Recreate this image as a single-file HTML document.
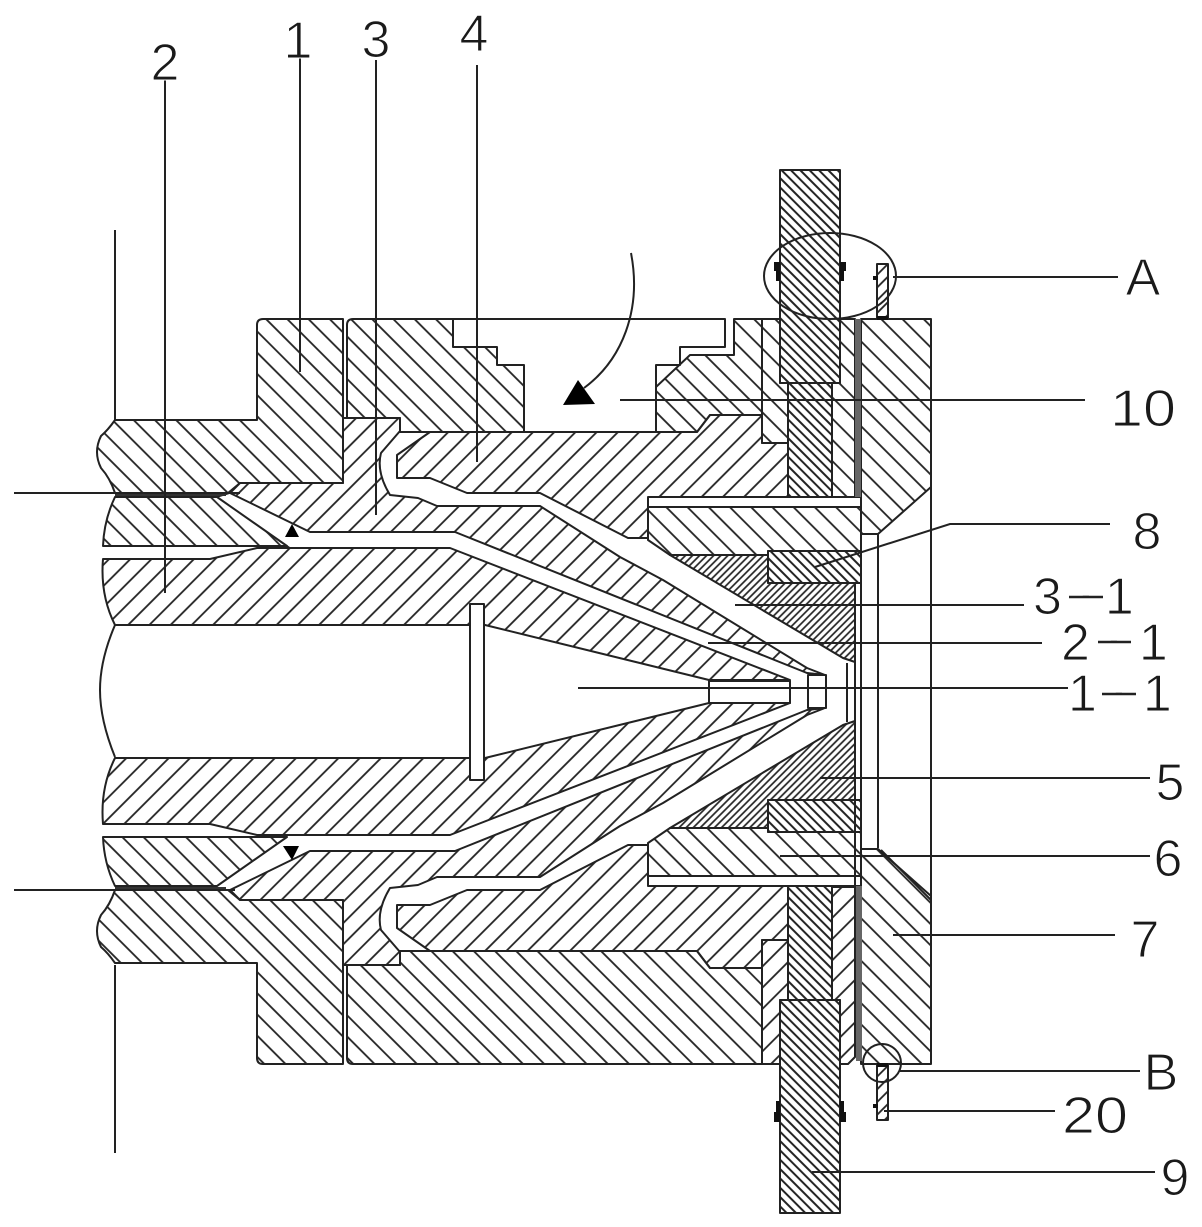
<!DOCTYPE html>
<html lang="en">
<head>
<meta charset="utf-8">
<title>Die head cross-section</title>
<style>
html,body{margin:0;padding:0;background:#fff}
svg{display:block}
text{font-family:"Liberation Sans",sans-serif;font-size:52px;fill:#1a1a1a;stroke:#fff;stroke-width:1.1px;paint-order:fill stroke}
tspan.h{font-size:30px}
</style>
</head>
<body>
<svg width="1202" height="1227" viewBox="0 0 1202 1227" xmlns="http://www.w3.org/2000/svg">
<defs>
<pattern id="b" width="15" height="15" patternUnits="userSpaceOnUse" patternTransform="rotate(45)"><path d="M0 7.5H15" stroke="#222" stroke-width="1.8"/></pattern>
<pattern id="f" width="15" height="15" patternUnits="userSpaceOnUse" patternTransform="rotate(-45)"><path d="M0 7.5H15" stroke="#222" stroke-width="1.8"/></pattern>
<pattern id="bb" width="6.6" height="6.6" patternUnits="userSpaceOnUse" patternTransform="rotate(45)"><path d="M0 3.3H6.6" stroke="#222" stroke-width="2"/></pattern>
<pattern id="fb" width="6.6" height="6.6" patternUnits="userSpaceOnUse" patternTransform="rotate(-45)"><path d="M0 3.3H6.6" stroke="#222" stroke-width="2"/></pattern>
<pattern id="ff" width="5" height="5" patternUnits="userSpaceOnUse" patternTransform="rotate(-45)"><path d="M0 2.5H5" stroke="#222" stroke-width="1.7"/></pattern>
<pattern id="fq" width="5" height="5" patternUnits="userSpaceOnUse" patternTransform="rotate(45)"><path d="M0 2.5H5" stroke="#222" stroke-width="1.7"/></pattern>
<pattern id="pf" width="9" height="9" patternUnits="userSpaceOnUse" patternTransform="rotate(-45)"><path d="M0 4.5H9" stroke="#222" stroke-width="1.8"/></pattern>
</defs>
<rect width="1202" height="1227" fill="#fff"/>

<g stroke="#222" stroke-width="2" stroke-linejoin="round">
<!-- upper half -->
<g>
<path fill="url(#b)" d="M115 420H257V325Q257 319 263 319H343V483H240L228 493H115Q110 478 101 468Q93 452 101 436Q108 430 115 420Z"/>
<path fill="url(#b)" d="M115 497H217L287 546H103Q104 520 115 497Z"/>
<path fill="url(#f)" d="M240 483H343V418H400V431L381 453Q376 472 390 495L418 498L437 506H540L620 557L663 580L807 668L825 675L807 673L455 532H310L230 493Z"/>
<path fill="url(#f)" d="M430 432H697L710 415H762V443H788V497H648V538H628L540 493H467L430 478H397V455Z"/>
<path fill="url(#f)" d="M103 559H210L257 548H450L790 680H709L485 625H115Q100 595 103 559Z"/>
<path fill="url(#b)" d="M648 507H861V551H768V555H670L648 540Z"/>
<path fill="url(#bb)" d="M768 551H861V583H768Z"/>
<path fill="url(#ff)" d="M670 555H768V583H855V662L843 658Z"/>
<path fill="url(#b)" d="M861 319H931V487L878 534H861Z"/>
<path fill="url(#bb)" d="M788 383H832V497H788Z"/>
<path fill="url(#bb)" d="M780 170H840V383H780Z"/>
</g>
<!-- lower half: mirrored about y=691.5 with mirrored patterns so hatch keeps its on-screen direction -->
<g transform="matrix(1 0 0 -1 0 1383)">
<path fill="url(#f)" d="M115 420H257V325Q257 319 263 319H343V483H240L228 493H115Q110 478 101 468Q93 452 101 436Q108 430 115 420Z"/>
<path fill="url(#f)" d="M115 497H217L287 546H103Q104 520 115 497Z"/>
<path fill="url(#b)" d="M240 483H343V418H400V431L381 453Q376 472 390 495L418 498L437 506H540L620 557L663 580L807 668L825 675L807 673L455 532H310L230 493Z"/>
<path fill="url(#b)" d="M430 432H697L710 415H762V443H788V497H648V538H628L540 493H467L430 478H397V455Z"/>
<path fill="url(#b)" d="M103 559H210L257 548H450L790 680H709L485 625H115Q100 595 103 559Z"/>
<path fill="url(#f)" d="M648 507H861V551H768V555H670L648 540Z"/>
<path fill="url(#fb)" d="M768 551H861V583H768Z"/>
<path fill="url(#fq)" d="M670 555H768V583H855V662L843 658Z"/>
<path fill="url(#f)" d="M861 319H931V487L878 534H861Z"/>
<path fill="url(#fb)" d="M788 383H832V497H788Z"/>
<path fill="url(#fb)" d="M780 170H840V383H780Z"/>
</g>
<!-- upper flanges -->
<path fill="url(#b)" d="M347 325Q347 319 353 319H453V347H497V365H524V432H400V418H347Z"/>
<path fill="url(#b)" d="M734 319H780V383H788V443H762V415H710L697 432H656V387L690 355H734Z"/>
<path fill="url(#b)" d="M840 319H855V497H832V383H840Z"/>
<path fill="none" d="M656 387V365H680V347H725V319H453M762 319V415"/>
<!-- lower flanges -->
<path fill="url(#b)" d="M347 965H400V951H697L710 968H762V1064H353Q347 1064 347 1058Z"/>
<path fill="url(#f)" d="M762 940H788V1000H780V1064H762Z"/>
<path fill="url(#f)" d="M832 887H855V1057L848 1064H840V1000H832Z"/>
<!-- white slot and centre details -->
<path fill="#fff" d="M470 604H484V780H470Z"/>
<path fill="#fff" d="M709 681H790V703H709Z"/>
<path fill="#fff" d="M808 675H826V708H808Z"/>
<path fill="none" d="M115 625Q100 660 100 690T115 757M847 663V722M855 583V890M861 507V876M878 534V848M931 487V896M881 850L931 900M648 497H861M648 507H861M648 876H861M648 886H861"/>
<path fill="none" stroke-width="1.6" d="M807 673L825 675M217 497L230 493M290 548L287 546"/>
<rect x="855" y="319" width="6" height="178" fill="#666" stroke="none"/>
<rect x="856" y="886" width="6" height="175" fill="#666" stroke="none"/>
<path fill="none" stroke="#333" stroke-width="4" d="M115 494H226M115 889H226"/>
<!-- pins -->
<path fill="url(#pf)" d="M877 264H888V318H877Z"/>
<path fill="url(#pf)" d="M877 1065H888V1120H877Z"/>
</g>

<!-- flow arrows -->
<path fill="#000" d="M285 537H299L292 524Z"/>
<path fill="#000" d="M283 846H299L292 860Z"/>
<path fill="#000" d="M563 405L595 404L578 380Z"/>
<path fill="none" stroke="#222" stroke-width="2" d="M631 253C642 310 622 360 584 388"/>

<!-- clips and small marks -->
<g fill="#111">
<rect x="774" y="262" width="6" height="9"/><rect x="776" y="271" width="4" height="10"/>
<rect x="840" y="262" width="6" height="9"/><rect x="840" y="271" width="4" height="10"/>
<rect x="774" y="1112" width="6" height="10"/><rect x="776" y="1101" width="4" height="11"/>
<rect x="840" y="1112" width="6" height="10"/><rect x="840" y="1101" width="4" height="11"/>
<rect x="873" y="276" width="5" height="4"/><rect x="873" y="1104" width="5" height="4"/>
<rect x="877" y="316" width="11" height="4"/><rect x="877" y="1063" width="11" height="4"/>
</g>

<!-- leaders -->
<g fill="none" stroke="#222" stroke-width="2">
<ellipse cx="830" cy="276" rx="66" ry="43"/>
<circle cx="882" cy="1063" r="19"/>
<path d="M115 230V420M115 965V1153M14 493H240M14 890H235"/>
<path d="M300 58V372M165 80V593M376 60V515M477 65V462"/>
<path d="M893 277H1118M620 400H1085M815 567L950 524H1110M735 605H1024M708 643H1042M578 688H1068"/>
<path d="M820 778H1150M780 856H1150M893 935H1115M900 1071H1140M884 1111H1055M812 1172H1155"/>
</g>

<!-- labels -->
<text x="298" y="58" text-anchor="middle">1</text>
<text x="165" y="80" text-anchor="middle">2</text>
<text x="376" y="57" text-anchor="middle">3</text>
<text x="474" y="51" text-anchor="middle">4</text>
<text x="1143" y="295" text-anchor="middle">A</text>
<text x="1143" y="426" text-anchor="middle" textLength="66" lengthAdjust="spacingAndGlyphs">10</text>
<text x="1147" y="549" text-anchor="middle">8</text>
<text x="1033" y="614">3<tspan class="h" dx="19" dy="-10">-</tspan><tspan dx="14" dy="10">1</tspan></text>
<text x="1061" y="660">2<tspan class="h" dx="19" dy="-11">-</tspan><tspan dx="20" dy="11">1</tspan></text>
<text x="1068" y="711">1<tspan class="h" dx="17" dy="-10">-</tspan><tspan dx="19" dy="10">1</tspan></text>
<text x="1170" y="800" text-anchor="middle">5</text>
<text x="1168" y="876" text-anchor="middle">6</text>
<text x="1145" y="957" text-anchor="middle">7</text>
<text x="1161" y="1090" text-anchor="middle">B</text>
<text x="1095" y="1133" text-anchor="middle" textLength="66" lengthAdjust="spacingAndGlyphs">20</text>
<text x="1175" y="1195" text-anchor="middle">9</text>
<path fill="none" stroke="#222" stroke-width="2.6" d="M1069 597H1103M1098 642H1131M1102 694H1136"/>
</svg>
</body>
</html>
